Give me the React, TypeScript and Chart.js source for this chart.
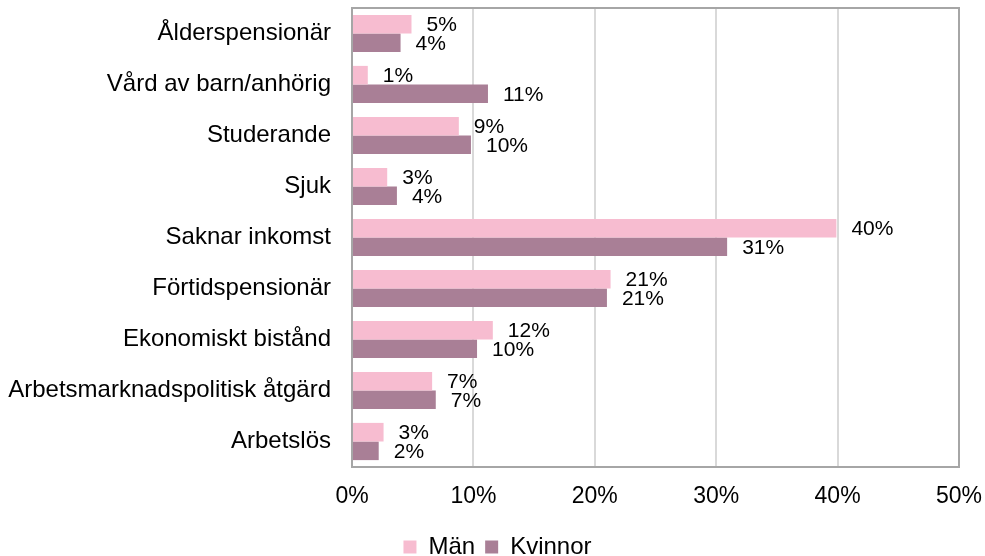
import React, { useEffect, useRef } from "react";
import { Chart, registerables } from "chart.js";

Chart.register(...registerables);

const categories = [
  "Ålderspensionär",
  "Vård av barn/anhörig",
  "Studerande",
  "Sjuk",
  "Saknar inkomst",
  "Förtidspensionär",
  "Ekonomiskt bistånd",
  "Arbetsmarknadspolitisk åtgärd",
  "Arbetslös",
];
const seriesNames = ["Män", "Kvinnor"];
const menValues = [4.9, 1.3, 8.8, 2.9, 39.9, 21.3, 11.6, 6.6, 2.6];
const womenValues = [4.0, 11.2, 9.8, 3.7, 30.9, 21.0, 10.3, 6.9, 2.2];
const xMin = 0;
const xMax = 50;
const xStep = 10;

const FONT = "'Liberation Sans', Arial, sans-serif";
const MEN_COLOR = "#F7BCD0";
const WOMEN_COLOR = "#A97F96";

const framePlugin = {
  id: "frame",
  afterDatasetsDraw(chart: any) {
    const { ctx, chartArea } = chart;
    ctx.save();
    ctx.strokeStyle = "#A6A6A6";
    ctx.lineWidth = 2;
    ctx.strokeRect(
      chartArea.left,
      chartArea.top,
      chartArea.right - chartArea.left,
      chartArea.bottom - chartArea.top
    );
    ctx.restore();
  },
};

const valueLabelPlugin = {
  id: "valueLabels",
  afterDatasetsDraw(chart: any) {
    const { ctx } = chart;
    ctx.save();
    ctx.font = `21px ${FONT}`;
    ctx.fillStyle = "#000000";
    ctx.textAlign = "left";
    ctx.textBaseline = "middle";
    chart.data.datasets.forEach((ds: any, i: number) => {
      const meta = chart.getDatasetMeta(i);
      meta.data.forEach((el: any, j: number) => {
        const v = ds.data[j];
        ctx.fillText(`${Math.round(v)}%`, el.x + 15, el.y + 1);
      });
    });
    ctx.restore();
  },
};

const legendShiftPlugin = {
  id: "legendShift",
  afterLayout(chart: any) {
    const lg = chart.legend;
    if (lg) {
      lg.top += 13;
      lg.bottom += 13;
      lg.left += 18;
      lg.right += 18;
    }
  },
};

export default function App() {
  const canvasRef = useRef<HTMLCanvasElement | null>(null);

  useEffect(() => {
    if (!canvasRef.current) return;
    const chart = new Chart(canvasRef.current, {
      type: "bar",
      data: {
        labels: categories,
        datasets: [
          {
            label: seriesNames[0],
            data: menValues,
            backgroundColor: MEN_COLOR,
            categoryPercentage: 0.73,
            barPercentage: 1.0,
          },
          {
            label: seriesNames[1],
            data: womenValues,
            backgroundColor: WOMEN_COLOR,
            categoryPercentage: 0.73,
            barPercentage: 1.0,
          },
        ],
      },
      options: {
        indexAxis: "y",
        responsive: false,
        animation: false,
        events: [],
        layout: { padding: { top: 8, right: 26, left: 0, bottom: 0 } },
        scales: {
          x: {
            min: xMin,
            max: xMax,
            ticks: {
              stepSize: xStep,
              padding: 16,
              color: "#000000",
              font: { family: FONT, size: 23 },
              callback: (v: any) => `${v}%`,
            },
            grid: { color: "#D9D9D9", lineWidth: 2, drawTicks: false },
            border: { display: false },
            afterFit: (scale: any) => {
              scale.height = 45;
              scale.paddingLeft = 0;
              scale.paddingRight = 0;
            },
          },
          y: {
            ticks: {
              padding: 21,
              color: "#000000",
              font: { family: FONT, size: 24 },
            },
            grid: { display: false, drawTicks: false },
            border: { display: false },
            afterFit: (scale: any) => {
              scale.width = 352;
              scale.paddingTop = 0;
              scale.paddingBottom = 0;
            },
          },
        },
        plugins: {
          legend: {
            position: "bottom",
            labels: {
              boxWidth: 13,
              boxHeight: 13,
              color: "#000000",
              font: { family: FONT, size: 24 },
              padding: 10,
            },
          },
          tooltip: { enabled: false },
        },
      },
      plugins: [framePlugin, valueLabelPlugin, legendShiftPlugin],
    } as any);
    return () => chart.destroy();
  }, []);

  return (
    <div
      style={{
        position: "fixed",
        left: 0,
        top: 0,
        width: 985,
        height: 556,
        background: "#ffffff",
      }}
    >
      <canvas ref={canvasRef} width={985} height={556} />
    </div>
  );
}
